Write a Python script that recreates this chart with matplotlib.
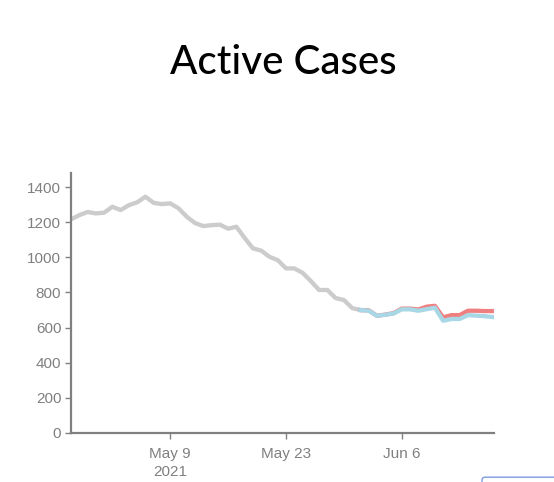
import datetime as dt

import matplotlib
matplotlib.use('Agg')
import matplotlib.dates as mdates
import matplotlib.pyplot as plt
from matplotlib.patches import FancyBboxPatch

start = dt.date(2021, 4, 27)

# active cases (one value per day)
history = [1216, 1240, 1258, 1250, 1254, 1288, 1269, 1297, 1313, 1345,
           1310, 1303, 1307, 1279, 1231, 1195, 1178, 1183, 1186, 1163,
           1174, 1110, 1051, 1038, 1003, 984, 937, 937, 912, 865,
           814, 814, 768, 757, 711, 700]
blue = [700, 696, 667, 673, 680, 704, 704, 696, 705, 713,
        639, 649, 649, 671, 668, 665, 660]
red = [700, 698, 667, 674, 682, 708, 708, 703, 719, 724,
       658, 671, 671, 696, 696, 694, 694]

tick_dates = [dt.date(2021, 5, 9), dt.date(2021, 5, 23), dt.date(2021, 6, 6)]
tick_labels = ['May 9\n2021', 'May 23', 'Jun 6']
y_ticks = [0, 200, 400, 600, 800, 1000, 1200, 1400]

hist_dates = [start + dt.timedelta(days=i) for i in range(len(history))]
off = len(history) - 1
proj_dates = [start + dt.timedelta(days=off + i) for i in range(len(blue))]

W, H = 554, 482
fig = plt.figure(figsize=(W / 100, H / 100), dpi=100)
ax = fig.add_axes([71 / W, (H - 433) / H, (494 - 71) / W, (433 - 173) / H])

grey = '#808080'
ax.plot(hist_dates, history, color='#cccccc', lw=3.1, solid_joinstyle='round')
ax.plot(proj_dates, red, color='#f08080', lw=3.1, solid_joinstyle='round')
ax.plot(proj_dates, blue, color='#a8d8e6', lw=3.1, solid_joinstyle='round')

ax.set_xlim(mdates.date2num(start), mdates.date2num(start) + 51.15)
ax.set_ylim(0, 1480)
ax.set_xticks(tick_dates)
ax.set_xticklabels(tick_labels)
ax.set_yticks(y_ticks)

for side in ('top', 'right'):
    ax.spines[side].set_visible(False)
for side in ('left', 'bottom'):
    ax.spines[side].set_color(grey)
    ax.spines[side].set_linewidth(1.6)
ax.tick_params(colors=grey, labelcolor=grey, length=4, width=1,
               labelsize=11, pad=3)
ax.tick_params(axis='x', pad=6)
for lab in ax.get_xticklabels() + ax.get_yticklabels():
    lab.set_family('Liberation Sans')
    lab.set_linespacing(1.35)

fig.text(283 / W, 1 - 62 / H, 'Active Cases', ha='center', va='center',
         fontsize=29, family='Lato', weight='medium', color='black')

# bit of a button peeking in at the bottom right corner
btn = FancyBboxPatch((482 / W, -0.02), 0.2, 0.03, boxstyle='round,pad=0,rounding_size=0.006',
                     transform=fig.transFigure, facecolor='white', edgecolor='#7b9be0', lw=1)
fig.patches.append(btn)

fig.savefig('out.png', dpi=100)
